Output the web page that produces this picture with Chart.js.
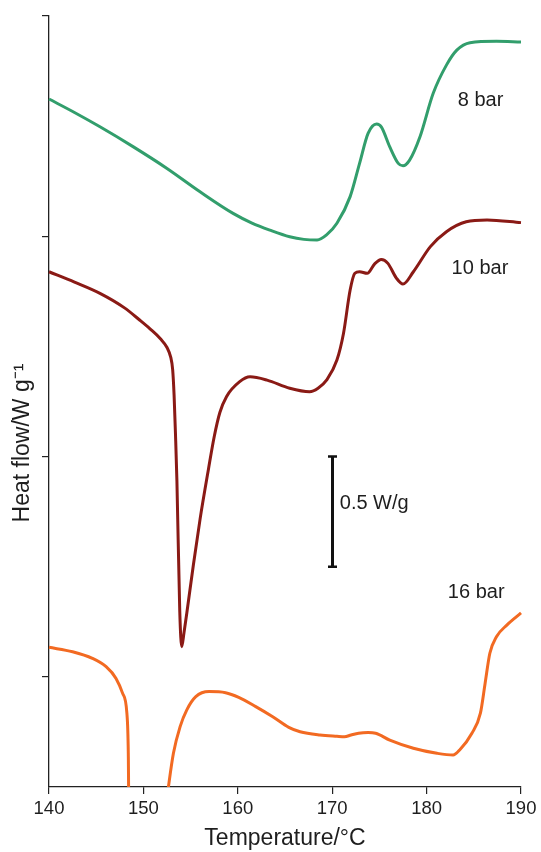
<!DOCTYPE html>
<html lang="en">
<head>
<meta charset="utf-8">
<script src="https://cdn.jsdelivr.net/npm/chart.js@4.4.1/dist/chart.umd.min.js"></script>
<style>
  html, body { margin: 0; padding: 0; background: #fff; }
  #wrap { width: 541px; height: 852px; }
</style>
</head>
<body>
<div id="wrap"><canvas id="chart" width="541" height="852"></canvas></div>

<script>
"use strict";

// DSC traces, temperature in degC, heat flow in W/g (offset per curve)
var temp8  = [140, 142.7, 145.4, 148.9, 152.5, 156.0, 159.5, 161.5, 163.4, 165.5, 167.0, 168.4, 169.4, 170.5, 171.9, 172.9, 173.8, 174.7, 175.2, 176.1, 177.0, 177.5, 178.2, 179.3, 180.7, 182.1, 183.2, 184.6, 187.4, 190];
var heat8  = [3.123, 3.062, 2.997, 2.907, 2.808, 2.702, 2.604, 2.560, 2.528, 2.498, 2.486, 2.483, 2.506, 2.559, 2.680, 2.831, 2.967, 3.010, 2.997, 2.906, 2.831, 2.820, 2.846, 2.952, 3.149, 3.277, 3.345, 3.379, 3.385, 3.382];

var temp10 = [140, 142.7, 145.4, 148, 149.6, 150.7, 151.8, 152.5, 152.9, 153.1, 153.25, 153.4, 153.55, 153.85, 154.06, 154.3, 154.6, 155.3, 156.0, 156.9, 157.5, 158.1, 158.8, 160.2, 161.3, 163.1, 165.5, 167.6, 168.5, 169.4, 170.5, 171.2, 171.9, 172.4, 172.9, 173.7, 174.5, 175.2, 175.9, 176.8, 177.5, 178.6, 180.4, 182.1, 184.2, 186.4, 190];
var heat10 = [2.339, 2.292, 2.241, 2.175, 2.120, 2.080, 2.035, 1.995, 1.950, 1.895, 1.780, 1.600, 1.390, 0.800, 0.637, 0.700, 0.790, 1.010, 1.215, 1.445, 1.590, 1.700, 1.772, 1.840, 1.862, 1.847, 1.810, 1.794, 1.810, 1.847, 1.938, 2.060, 2.256, 2.332, 2.339, 2.332, 2.375, 2.395, 2.377, 2.310, 2.283, 2.339, 2.453, 2.521, 2.566, 2.574, 2.562];

var temp16 = [140, 142.5, 144.6, 146.05, 147.1, 147.8, 148.25, 148.4, 148.5, 152.2, 152.65, 153.18, 153.89, 154.6, 155.55, 156.96, 158.7, 160.1, 161.9, 163.7, 165.4, 166.6, 168.7, 170.5, 171.3, 172.0, 172.8, 173.8, 174.6, 176.1, 178.6, 181.1, 182.8, 183.5, 184.8, 185.7, 186.2, 186.7, 187.4, 188.5, 190];
var heat16 = [0.634, 0.614, 0.584, 0.546, 0.493, 0.425, 0.335, 0.153, -0.3, -0.15, 0.0, 0.153, 0.274, 0.350, 0.410, 0.433, 0.428, 0.407, 0.365, 0.319, 0.271, 0.251, 0.236, 0.230, 0.228, 0.236, 0.244, 0.247, 0.244, 0.213, 0.176, 0.153, 0.145, 0.168, 0.244, 0.335, 0.471, 0.607, 0.682, 0.735, 0.790];

var seriesNames = ["8 bar", "10 bar", "16 bar"];
var seriesColors = ["#329e6c", "#8a1a15", "#f26a22"];

// curve labels: [text, temperature, heat flow]
var curveLabels = [
  ["8 bar", 183.3, 3.118],
  ["10 bar", 182.65, 2.356],
  ["16 bar", 182.25, 0.885],
  ["0.5 W/g", 170.8, 1.289]
];

// scale bar: 0.5 W/g at 170 degC
var scaleBarT = 170;
var scaleBarFrom = 1.0;
var scaleBarTo = 1.5;

var xTicks = [140, 150, 160, 170, 180, 190];
var yTicks = [0.5, 1.5, 2.5, 3.5];

function pts(t, h) {
  return t.map(function(v, i) { return {x: v, y: h[i]}; });
}

var FONT = "'Liberation Sans', Arial, Helvetica, sans-serif";
var TXT = "#1e1e1e";

var extras = {
  id: 'extras',
  afterDatasetsDraw: function(chart) {
    var ctx = chart.ctx;
    var xs = chart.scales.x, ys = chart.scales.y;
    ctx.save();
    // scale bar
    var bx = Math.round(xs.getPixelForValue(scaleBarT)) + 0.5;
    var b0 = ys.getPixelForValue(scaleBarFrom), b1 = ys.getPixelForValue(scaleBarTo);
    ctx.strokeStyle = "#111";
    ctx.lineWidth = 3;
    ctx.beginPath();
    ctx.moveTo(bx, b0); ctx.lineTo(bx, b1);
    ctx.stroke();
    ctx.lineWidth = 2.5;
    ctx.beginPath();
    ctx.moveTo(bx - 4.5, b0); ctx.lineTo(bx + 4.5, b0);
    ctx.moveTo(bx - 4.5, b1); ctx.lineTo(bx + 4.5, b1);
    ctx.stroke();
    // labels
    ctx.fillStyle = TXT;
    ctx.font = "20px " + FONT;
    ctx.textAlign = "left";
    ctx.textBaseline = "middle";
    curveLabels.forEach(function(l) {
      ctx.fillText(l[0], xs.getPixelForValue(l[1]), ys.getPixelForValue(l[2]));
    });
    // y title (sits below centre in the original)
    ctx.translate(23, 443);
    ctx.rotate(-Math.PI / 2);
    ctx.textAlign = "center";
    ctx.font = "23px " + FONT;
    ctx.fillText("Heat flow/W g\u207B\u00B9", 0, 0);
    ctx.restore();
  }
};

var ds = [pts(temp8, heat8), pts(temp10, heat10), pts(temp16, heat16)].map(function(d, i) {
  return {
    label: seriesNames[i],
    data: d,
    borderColor: seriesColors[i],
    borderWidth: 3,
    pointRadius: 0,
    fill: false,
    cubicInterpolationMode: 'monotone',
    clip: i === 2 ? {left: 3, top: 3, right: 3, bottom: 0} : 3
  };
});

new Chart(document.getElementById("chart"), {
  type: 'line',
  data: { datasets: ds },
  plugins: [extras],
  options: {
    responsive: false,
    animation: false,
    events: [],
    layout: { padding: { top: 16, right: 20, left: 0, bottom: 0 } },
    plugins: { legend: { display: false }, tooltip: { enabled: false } },
    scales: {
      x: {
        type: 'linear',
        min: 140, max: 190,
        afterBuildTicks: function(s) { s.ticks = xTicks.map(function(v) { return {value: v}; }); },
        afterFit: function(s) { s.height = 65; },
        ticks: { color: TXT, font: { family: FONT, size: 18.5 }, padding: 4, maxRotation: 0 },
        grid: { drawOnChartArea: false, tickLength: 7, color: "#222", lineWidth: 1.2 },
        border: { color: "#222", width: 1.3 },
        title: { display: true, text: "Temperature/\u00B0C", color: TXT, font: { family: FONT, size: 23 }, padding: { top: 0, bottom: 0 } }
      },
      y: {
        type: 'linear',
        min: 0, max: 3.5,
        afterBuildTicks: function(s) { s.ticks = yTicks.map(function(v) { return {value: v}; }); },
        afterFit: function(s) { s.width = 49; },
        ticks: { display: false },
        grid: { drawOnChartArea: false, tickLength: 7, color: "#222", lineWidth: 1.2 },
        border: { color: "#222", width: 1.3 }
      }
    }
  }
});
</script>
</body>
</html>
